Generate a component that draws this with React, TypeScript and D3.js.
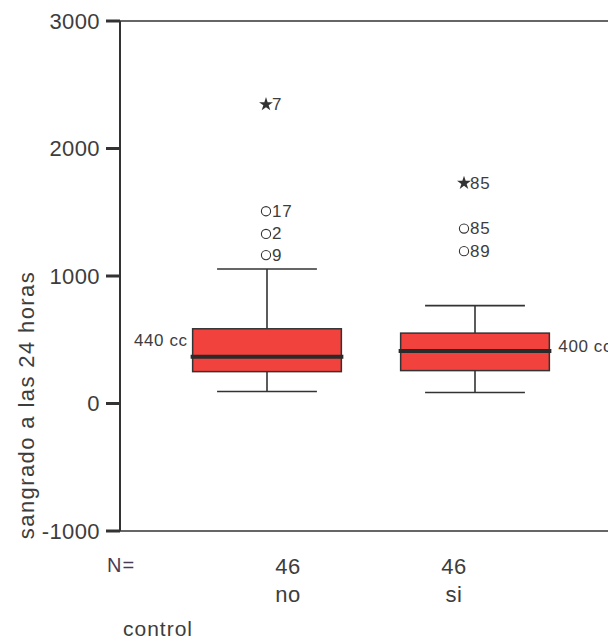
import React from "react";
import * as d3 from "d3";

// Bleeding at 24 h by group
const groups = ["no", "si"];
const q1Values = [250, 258];
const medianValues = [367, 412];
const q3Values = [586, 552];
const whiskerLow = [94, 86];
const whiskerHigh = [1055, 768];
const nValues = [46, 46];
const meanLabels = [440, 400];

// Outliers: "circle" = mild, "star" = extreme
const outlierGroups = ["no", "no", "no", "no", "si", "si", "si"];
const outlierIds = ["7", "17", "2", "9", "85", "85", "89"];
const outlierValues = [2346, 1508, 1330, 1164, 1729, 1372, 1195];
const outlierKinds = ["star", "circle", "circle", "circle", "star", "circle", "circle"];

const yTicks = [-1000, 0, 1000, 2000, 3000];

const W = 608;
const H = 640;
const FONT = "'Liberation Sans', Arial, Helvetica, sans-serif";
const INK = "#333";
const TEXT = "#3d3d3d";
const FILL = "#f2423d";

export default function App() {
  const y = d3.scaleLinear().domain([-1000, 3000]).range([531, 21]);
  const x = d3.scaleBand<string>().domain(groups).range([163, 579]);
  const xLab = d3.scalePoint<string>().domain(groups).range([288, 454]);
  const bw = x.bandwidth();
  const boxW = bw * 0.715;
  const capW = bw * 0.48;
  const axisX = 120;
  const markerShift: Record<string, number> = { no: -1, si: -11 };
  const star = d3.symbol().type(d3.symbolStar).size(60)();

  return (
    <svg
      width={W}
      height={H}
      style={{ position: "absolute", left: 0, top: 0, background: "#fff" }}
      fontFamily={FONT}
    >
      {/* frame */}
      <line x1={axisX} x2={W + 10} y1={y(3000)} y2={y(3000)} stroke={INK} strokeWidth={1.6} />
      <line x1={axisX} x2={W + 10} y1={y(-1000)} y2={y(-1000)} stroke={INK} strokeWidth={1.6} />
      <line x1={axisX} x2={axisX} y1={y(3000)} y2={y(-1000)} stroke={INK} strokeWidth={2} />

      {/* y ticks */}
      {yTicks.map((t) => (
        <g key={t}>
          <line x1={axisX - 14} x2={axisX} y1={y(t)} y2={y(t)} stroke={INK} strokeWidth={3} />
          <text
            x={axisX - 20}
            y={y(t)}
            textAnchor="end"
            dominantBaseline="central"
            fontSize={22}
            letterSpacing={0.4}
            fill={TEXT}
          >
            {t}
          </text>
        </g>
      ))}

      {/* y title */}
      <text
        transform={`translate(34,${405}) rotate(-90)`}
        textAnchor="middle"
        fontSize={22}
        letterSpacing={1.4}
        fill={TEXT}
      >
        sangrado a las 24 horas
      </text>

      {/* boxes */}
      {groups.map((g, i) => {
        const cx = (x(g) as number) + bw / 2;
        return (
          <g key={g}>
            <line x1={cx} x2={cx} y1={y(whiskerHigh[i])} y2={y(q3Values[i])} stroke={INK} strokeWidth={1.6} />
            <line x1={cx} x2={cx} y1={y(q1Values[i])} y2={y(whiskerLow[i])} stroke={INK} strokeWidth={1.6} />
            <line x1={cx - capW / 2} x2={cx + capW / 2} y1={y(whiskerHigh[i])} y2={y(whiskerHigh[i])} stroke={INK} strokeWidth={1.6} />
            <line x1={cx - capW / 2} x2={cx + capW / 2} y1={y(whiskerLow[i])} y2={y(whiskerLow[i])} stroke={INK} strokeWidth={1.6} />
            <rect
              x={cx - boxW / 2}
              y={y(q3Values[i])}
              width={boxW}
              height={y(q1Values[i]) - y(q3Values[i])}
              fill={FILL}
              stroke={INK}
              strokeWidth={1.5}
            />
            <line
              x1={cx - boxW / 2 - 2}
              x2={cx + boxW / 2 + 2}
              y1={y(medianValues[i])}
              y2={y(medianValues[i])}
              stroke="#2a2a2a"
              strokeWidth={4}
            />
            <text
              x={i === 0 ? cx - boxW / 2 - 5 : cx + boxW / 2 + 9}
              y={y(meanLabels[i]) - 1}
              textAnchor={i === 0 ? "end" : "start"}
              fontSize={17}
              letterSpacing={0.6}
              fill={TEXT}
            >
              {`${meanLabels[i]} cc`}
            </text>
          </g>
        );
      })}

      {/* outliers */}
      {outlierValues.map((v, k) => {
        const g = outlierGroups[k];
        const mx = (x(g) as number) + bw / 2 + markerShift[g];
        const my = y(v);
        return (
          <g key={k}>
            {outlierKinds[k] === "star" ? (
              <path d={star as string} transform={`translate(${mx},${my})`} fill={INK} />
            ) : (
              <circle cx={mx} cy={my} r={4.6} fill="none" stroke={INK} strokeWidth={1.1} />
            )}
            <text x={mx + 6} y={my} dominantBaseline="central" fontSize={17} letterSpacing={0.8} fill={TEXT}>
              {outlierIds[k]}
            </text>
          </g>
        );
      })}

      {/* category labels */}
      <text x={107} y={572} fontSize={20} letterSpacing={1} fill="#4a3a55">
        N=
      </text>
      {groups.map((g, i) => (
        <g key={g}>
          <text x={xLab(g)} y={574} textAnchor="middle" fontSize={22} letterSpacing={0.5} fill={TEXT}>
            {nValues[i]}
          </text>
          <text x={xLab(g)} y={602} textAnchor="middle" fontSize={22} letterSpacing={0.5} fill={TEXT}>
            {g}
          </text>
        </g>
      ))}
      <text x={123} y={636} fontSize={21} letterSpacing={1} fill={TEXT}>
        control
      </text>
    </svg>
  );
}
